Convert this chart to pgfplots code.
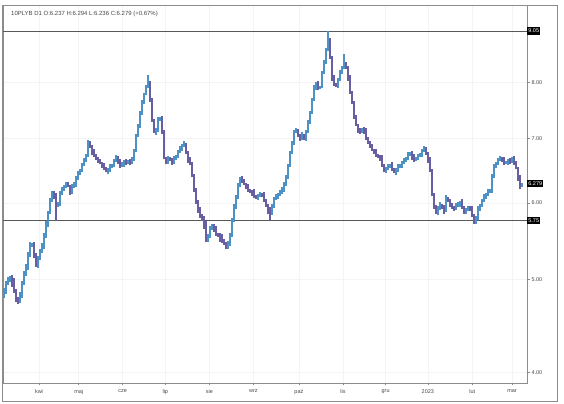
\documentclass[border=0pt]{standalone}
\usepackage{pgfplots}
\usepackage{pgfplotstable}
\pgfplotsset{compat=1.18}
\usepackage{fontspec}
\setmainfont{Liberation Sans}
\definecolor{upc}{RGB}{78,145,196}
\definecolor{dnc}{RGB}{104,94,162}
\definecolor{axc}{RGB}{140,140,140}
\definecolor{txc}{RGB}{70,70,70}

\pgfplotstableread{
x L H
1 4.78 4.90
2 4.83 4.98
3 4.93 5.03
4 4.97 5.04
9 4.72 4.85
10 4.78 4.98
11 4.93 5.10
12 5.04 5.18
13 5.11 5.33
14 5.27 5.47
15 5.40 5.45
18 5.13 5.28
19 5.23 5.38
20 5.32 5.45
21 5.38 5.58
22 5.52 5.74
23 5.67 5.89
24 5.84 6.07
25 6.02 6.18
28 5.94 6.02
29 5.95 6.18
30 6.12 6.24
31 6.17 6.27
32 6.22 6.31
35 6.13 6.28
36 6.22 6.31
37 6.24 6.40
38 6.34 6.48
39 6.41 6.51
40 6.46 6.60
41 6.55 6.68
42 6.61 6.75
43 6.70 6.98
53 6.43 6.52
54 6.46 6.59
55 6.52 6.59
56 6.54 6.66
57 6.61 6.73
60 6.54 6.61
61 6.54 6.65
63 6.58 6.65
65 6.58 6.70
66 6.63 6.83
67 6.78 7.08
68 7.02 7.25
69 7.18 7.47
70 7.41 7.67
71 7.60 7.81
72 7.76 7.95
73 7.90 8.14
77 7.06 7.17
78 7.11 7.37
79 7.30 7.37
83 6.59 6.72
86 6.59 6.72
87 6.65 6.73
88 6.68 6.81
89 6.76 6.87
90 6.80 6.91
91 6.86 6.95
103 5.47 5.57
104 5.52 5.68
105 5.63 5.71
113 5.38 5.48
114 5.41 5.58
115 5.53 5.79
116 5.73 5.98
117 5.91 6.12
118 6.06 6.30
119 6.23 6.39
128 6.04 6.13
129 6.08 6.16
135 5.83 5.98
136 5.93 6.09
137 6.04 6.13
138 6.06 6.15
139 6.10 6.19
140 6.13 6.23
141 6.16 6.31
142 6.25 6.42
143 6.35 6.59
144 6.54 6.79
145 6.74 6.96
146 6.89 7.15
147 7.10 7.18
150 6.98 7.11
152 6.96 7.14
153 7.09 7.31
154 7.24 7.48
155 7.43 7.72
156 7.65 7.96
157 7.87 8.01
159 7.88 7.94
160 7.89 8.22
161 8.17 8.44
162 8.36 8.68
163 8.62 9.05
168 7.90 8.09
169 8.03 8.24
170 8.16 8.33
171 8.27 8.56
180 7.09 7.18
192 6.45 6.54
193 6.49 6.59
194 6.52 6.59
197 6.41 6.52
198 6.46 6.59
199 6.52 6.58
200 6.53 6.63
201 6.58 6.68
202 6.61 6.70
203 6.65 6.77
204 6.71 6.78
207 6.63 6.70
208 6.65 6.74
209 6.69 6.76
210 6.69 6.82
211 6.77 6.88
218 5.83 5.95
219 5.90 6.01
222 5.87 6.12
227 5.90 6.00
228 5.94 6.01
229 5.94 6.03
232 5.84 5.93
233 5.88 5.96
237 5.70 5.82
238 5.76 5.95
239 5.88 5.99
240 5.94 6.06
241 6.01 6.13
242 6.06 6.15
243 6.10 6.20
244 6.14 6.21
245 6.14 6.43
246 6.37 6.59
247 6.52 6.62
248 6.57 6.68
249 6.63 6.71
252 6.58 6.64
253 6.57 6.66
255 6.60 6.70
260 6.236 6.294
}\uptab

\pgfplotstableread{
x L H
5 4.91 5.05
6 4.84 5.01
7 4.74 4.89
8 4.71 4.79
16 5.26 5.46
17 5.15 5.32
26 6.06 6.17
27 5.74 6.14
33 6.23 6.31
34 6.12 6.27
44 6.84 6.96
45 6.73 6.89
46 6.70 6.83
47 6.65 6.75
48 6.60 6.70
49 6.58 6.66
50 6.52 6.62
51 6.49 6.60
52 6.46 6.54
58 6.58 6.72
59 6.53 6.66
62 6.57 6.67
64 6.57 6.66
74 7.64 8.03
75 7.29 7.72
76 7.09 7.34
80 7.08 7.38
81 6.66 7.14
82 6.58 6.70
84 6.63 6.70
85 6.57 6.68
92 6.74 6.93
93 6.60 6.79
94 6.57 6.70
95 6.38 6.62
96 6.16 6.43
97 5.99 6.22
98 5.86 6.04
99 5.79 5.94
100 5.75 5.84
101 5.64 5.81
102 5.46 5.74
106 5.60 5.70
107 5.54 5.68
108 5.53 5.59
109 5.47 5.58
110 5.45 5.57
111 5.42 5.50
112 5.37 5.47
120 6.29 6.40
121 6.26 6.35
122 6.20 6.30
123 6.16 6.28
124 6.14 6.21
125 6.10 6.19
126 6.07 6.20
127 6.05 6.12
130 6.08 6.15
131 6.01 6.16
132 5.94 6.06
133 5.84 5.99
134 5.76 5.94
148 7.02 7.16
149 6.96 7.07
151 6.97 7.08
158 7.87 8.04
164 8.46 8.90
165 8.03 8.52
166 7.94 8.15
167 7.91 8.00
172 8.26 8.41
173 8.04 8.32
174 7.79 8.14
175 7.60 7.85
176 7.34 7.65
177 7.21 7.40
178 7.10 7.25
179 7.08 7.18
181 7.08 7.19
182 6.98 7.18
183 6.91 7.03
184 6.85 6.96
185 6.79 6.91
186 6.74 6.83
187 6.70 6.82
188 6.68 6.75
189 6.63 6.73
190 6.54 6.73
191 6.46 6.59
195 6.48 6.61
196 6.44 6.53
205 6.65 6.79
206 6.62 6.75
212 6.73 6.86
213 6.60 6.78
214 6.46 6.70
215 6.10 6.51
216 5.91 6.15
217 5.85 5.97
220 5.92 5.99
221 5.85 5.97
223 6.01 6.09
224 5.94 6.06
225 5.92 6.00
226 5.89 5.96
230 5.91 6.05
231 5.85 5.96
234 5.88 5.95
235 5.80 5.96
236 5.71 5.85
250 6.61 6.70
251 6.57 6.69
254 6.59 6.68
256 6.57 6.71
257 6.50 6.63
258 6.33 6.54
259 6.21 6.41
}\dntab

\begin{document}
\begin{tikzpicture}
\path[use as bounding box] (0bp,0bp) rectangle (564bp,404bp);
\draw[axc, line width=0.8bp] (2bp,3bp) rectangle (557bp,399bp);
\begin{axis}[
  at={(3bp,21bp)}, anchor=south west, scale only axis,
  width=524bp, height=378bp,
  xmin=0.5, xmax=262.5, ymode=log, ymin=3.902, ymax=9.631,
  axis line style={axc, line width=0.6bp},
  xtick={18.5,38.35,60.35,81.65,103.7,125.7,148.45,170.5,191.8,212.9,235.1,255},
  xticklabels={kwi,maj,cze,lip,sie,wrz,paź,lis,gru,2023,lut,mar},
  ytick={4,5,6,7,8}, yticklabels={4.00,5.00,6.00,7.00,8.00},
  yminorticks=false, xtick pos=bottom, ytick pos=right, yticklabel pos=right,
  tick align=outside, major tick length=2.5bp,
  tick style={axc, line width=0.5bp},
  grid=major, grid style={gray!9, line width=0.5bp},
  tick label style={font=\fontsize{5.5}{6}\selectfont, text=txc},
  yticklabel style={xshift=-1.5bp},
  xticklabel style={yshift=-0.5bp},
  clip=false,
]
\addplot[black!65, line width=0.7bp] coordinates {(0.5,9.05) (262.5,9.05)};
\addplot[black!65, line width=0.7bp] coordinates {(0.5,5.75) (262.5,5.75)};
\addplot[draw=none, mark=none, error bars/.cd, y dir=plus, y explicit, error mark=none,
  error bar style={draw=upc, line width=1.2bp}]
  table[x=x, y=L, y error plus expr=\thisrow{H}-\thisrow{L}] {\uptab};
\addplot[draw=none, mark=none, error bars/.cd, y dir=plus, y explicit, error mark=none,
  error bar style={draw=dnc, line width=1.2bp}]
  table[x=x, y=L, y error plus expr=\thisrow{H}-\thisrow{L}] {\dntab};
\node[fill=black, text=white, font=\fontsize{5.5}{5.5}\selectfont, inner xsep=1.2bp, inner ysep=1.6bp, anchor=west] at (axis cs:262.5,9.05) {9.05};
\node[fill=black, text=white, font=\fontsize{5.5}{5.5}\selectfont, inner xsep=1.2bp, inner ysep=1.6bp, anchor=west] at (axis cs:262.5,5.75) {5.75};
\node[fill=black, text=white, font=\fontsize{5.5}{5.5}\selectfont, inner xsep=1.2bp, inner ysep=1.6bp, anchor=west] at (axis cs:262.5,6.279) {6.279};
\end{axis}
\node[anchor=west, font=\fontsize{6}{7}\selectfont, text=txc, inner sep=0pt] at (11bp,390bp) {10PLYB D1 O:6.237 H:6.294 L:6.236 C:6.279 (+0.67\%)};
\end{tikzpicture}
\end{document}
